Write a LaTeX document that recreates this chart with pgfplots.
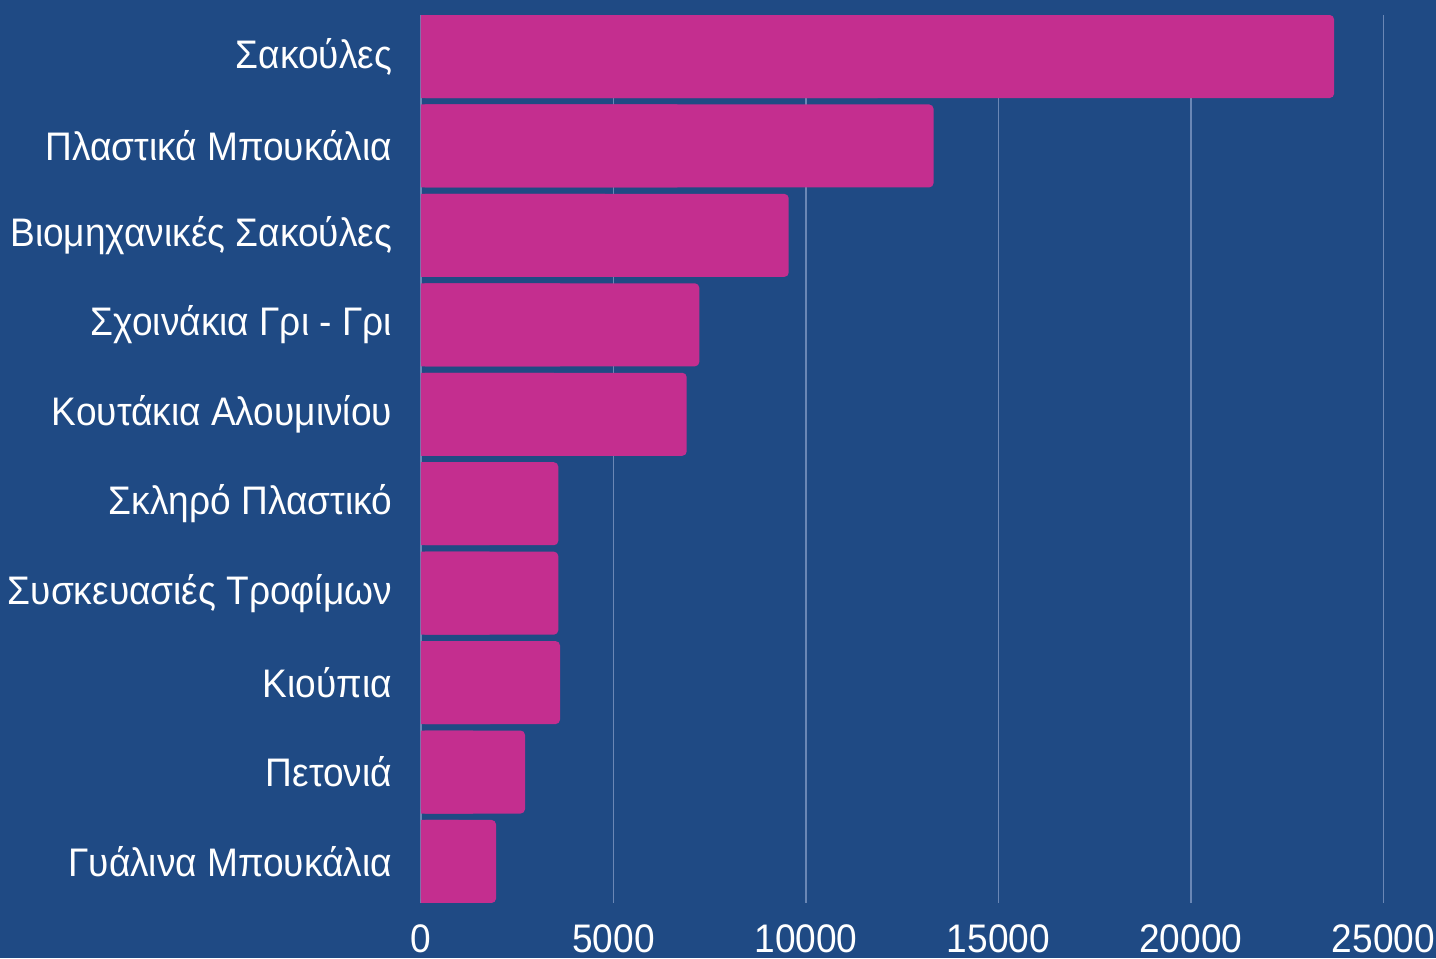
\documentclass[border=0pt]{standalone}
\usepackage{pgfplots}
\pgfplotsset{compat=1.18}
\usepackage{pgfplotstable}
\usepackage{fontspec}
\setmainfont{Liberation Sans}[FakeStretch=0.93]
\definecolor{bg}{HTML}{1F4A84}
\definecolor{barc}{HTML}{C42E8F}
\definecolor{gridc}{HTML}{6A87B5}

\pgfplotstableread{
idx v
0 23720
1 13315
2 9553
3 7230
4 6903
5 3567
6 3567
7 3611
8 2702
9 1949
}\data

\begin{document}
\begin{tikzpicture}
\fill[bg] (-210.5bp,-27.65bp) rectangle (507.5bp,451.4bp);
\path[use as bounding box] (-210.5bp,-27.65bp) rectangle (507.5bp,451.4bp);
\begin{axis}[
 at={(0,0)}, anchor=south west,
 scale only axis, width=481.2bp, height=443.9bp,
 xmin=0, xmax=25000, ymin=-0.464, ymax=9.462, y dir=reverse,
 ytick={0,...,9},
 yticklabels={Σακούλες,Πλαστικά Μπουκάλια,Βιομηχανικές Σακούλες,Σχοινάκια Γρι - Γρι,Κουτάκια Αλουμινίου,Σκληρό Πλαστικό,Συσκευασιές Τροφίμων,Κιούπια,Πετονιά,Γυάλινα Μπουκάλια},
 xtick={0,5000,10000,15000,20000,25000},
 scaled x ticks=false,
 /pgf/number format/1000 sep={},
 /pgf/number format/assume math mode=true,
 axis line style={draw=none}, major tick length=0pt,
 xmajorgrids, grid style={color=gridc, line width=0.6bp},
 tick label style={text=white, font=\fontsize{20}{22}\selectfont},
 yticklabel style={xshift=-11bp},
 xticklabel style={yshift=-7.5bp},
 clip=false,
]
\addplot[xbar, bar width=0.928, bar shift=0pt, fill=barc, draw=none, rounded corners=2.2bp] table[x=v, y=idx] {\data};
\addplot[xbar, bar width=0.928, bar shift=0pt, fill=barc, draw=none] table[x expr=\thisrow{v}*0.5, y=idx] {\data};
\end{axis}
\end{tikzpicture}
\end{document}
